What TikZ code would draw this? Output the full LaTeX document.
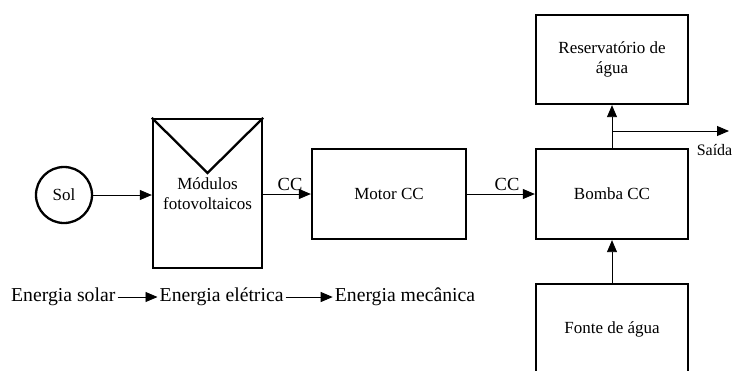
\documentclass[tikz,border=0pt]{standalone}
\usepackage{fontspec}
\setmainfont{Liberation Serif}
\usetikzlibrary{arrows.meta,positioning}

\tikzset{
    bloco/.style={draw, line width=2.3pt, minimum width=152pt, minimum height=90pt, align=center, font=\fontsize{17}{20}\selectfont},
    seta/.style={-{Triangle[length=12pt,width=10pt]}, line width=0.9pt},
    rotulo/.style={font=\fontsize{18.5}{21}\selectfont},
    cadeia/.style={font=\fontsize{19.7}{22}\selectfont, inner sep=2pt}
}

\begin{document}
\begin{tikzpicture}[x=1pt,y=-1pt]
    \useasboundingbox (0,0) rectangle (733,370);

    % Blocks
    \node[draw, circle, line width=2.3pt, minimum size=56pt, font=\fontsize{17}{20}\selectfont] (sol) at (64,195) {Sol};
    \node[bloco, minimum width=109pt, minimum height=149pt] (pv) at (207.5,193.5) {M\'odulos\\fotovoltaicos};
    \node[bloco, minimum width=154pt] (motor) at (389,194) {Motor CC};
    \node[bloco] (bomba) at (612,194) {Bomba CC};
    \node[bloco, minimum height=89pt] (reserv) at (612,59.5) {Reservat\'orio de\\\'agua};
    \node[bloco] (fonte) at (612,329) {Fonte de \'agua};

    % Panel mark
    \draw[line width=2.3pt] (pv.north west) -- (207.5,173) -- (pv.north east);

    % Connections
    \draw[seta] (sol.east) -- (sol.east -| pv.west);
    \draw[seta] (pv.east |- motor) -- node[rotulo, above, xshift=3pt] {CC} (motor);
    \draw[seta] (motor) -- node[rotulo, above, xshift=6pt] {CC} (bomba);
    \draw[seta] (fonte) -- (bomba);
    \draw[seta] (bomba) -- (reserv);
    \coordinate (saida) at (729,131);
    \draw[seta] (bomba.north |- saida) -- (saida);
    \node[anchor=north east, inner sep=0pt, font=\fontsize{16}{19}\selectfont] (saidatxt) at (732.5,144) {Sa\'ida};

    % Energy chain
    \node[cadeia, anchor=west] (solar) at (9,297) {Energia solar};
    \node[cadeia, right=40pt of solar] (eletrica) {Energia el\'etrica};
    \node[cadeia, right=47pt of eletrica] (mecanica) {Energia mec\^anica};
    \draw[seta] (solar) -- (eletrica);
    \draw[seta] (eletrica) -- (mecanica);
\end{tikzpicture}
\end{document}
